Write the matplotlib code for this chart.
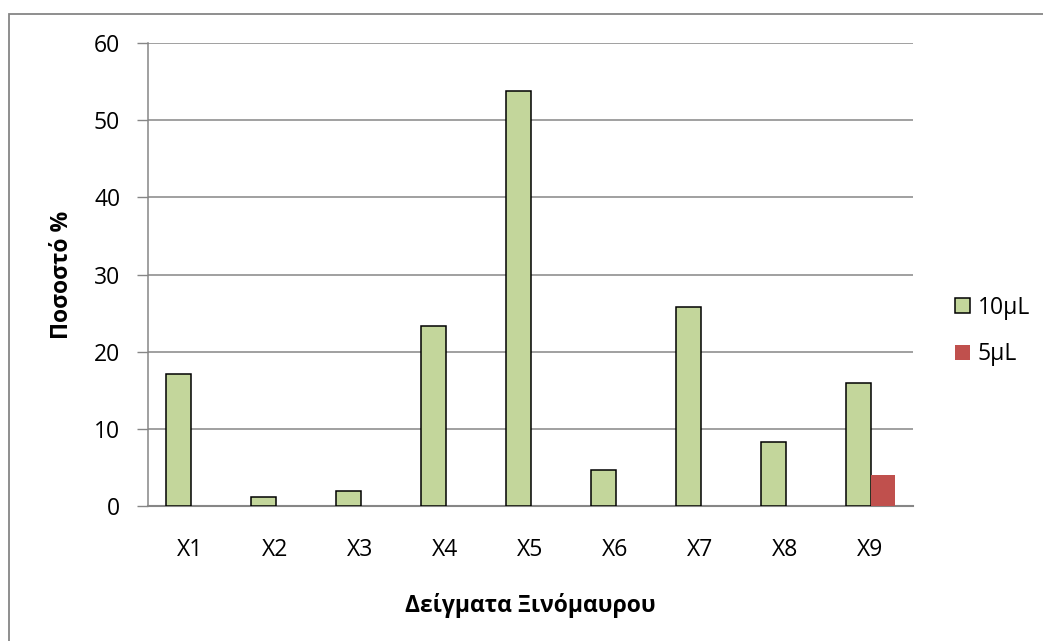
import matplotlib
matplotlib.use("Agg")
import matplotlib.pyplot as plt
import numpy as np
from matplotlib.patches import Rectangle

categories = ["X1", "X2", "X3", "X4", "X5", "X6", "X7", "X8", "X9"]
vals_10 = [17.1, 1.2, 2.0, 23.3, 53.8, 4.7, 25.8, 8.3, 16.0]
vals_5 = [0, 0, 0, 0, 0, 0, 0, 0, 4.0]
series_names = ["10μL", "5μL"]
y_ticks = [0, 10, 20, 30, 40, 50, 60]

plt.rcParams['font.family'] = ['Open Sans', 'DejaVu Sans']
FS = 16.5

W, H = 1043, 641
fig = plt.figure(figsize=(W / 100, H / 100), dpi=100)
ax = fig.add_axes([148 / W, 1 - 506 / H, (913 - 148) / W, (506 - 43) / H])

x = np.arange(len(categories))
bw = 0.294
green = "#C3D69B"
red = "#C0504D"
b1 = ax.bar(x - bw / 2, vals_10, bw, color=green, edgecolor="black", linewidth=1.1, zorder=3)
b2 = ax.bar(x + bw / 2, vals_5, bw, color=red, edgecolor="none", zorder=3)

ax.set_xlim(-0.5, len(categories) - 0.5)
ax.set_ylim(0, 60)
ax.set_yticks(y_ticks)
ax.set_xticks(x)
ax.set_xticklabels(categories, fontsize=FS)
ax.tick_params(axis='y', labelsize=FS, length=8, width=1, color="#868686", pad=12)
ax.tick_params(axis='x', length=0, pad=23)
ax.yaxis.grid(True, color="#868686", linewidth=1.1)
ax.set_axisbelow(True)
for s in ["top", "right"]:
    ax.spines[s].set_visible(False)
ax.spines["left"].set_color("#868686")
ax.spines["bottom"].set_color("#868686")
ax.spines["left"].set_linewidth(1.1)
ax.spines["bottom"].set_linewidth(1.5)

fig.text(62 / W, 1 - 275 / H, "Ποσοστό %", rotation=90, ha="center", va="center",
         fontsize=FS, fontweight="bold")
fig.text(530 / W, 1 - 605 / H, "Δείγματα Ξινόμαυρου", ha="center", va="center",
         fontsize=FS, fontweight="bold")

leg = fig.legend([b1, b2], series_names, loc="center left",
                 bbox_to_anchor=(934 / W, 1 - 331 / H), frameon=False, fontsize=FS,
                 handlelength=0.65, handleheight=0.65, handletextpad=0.35, labelspacing=1.0)

fig.patches.append(Rectangle((9 / W, -0.1), 1.2, 1 - 14 / H + 0.1, transform=fig.transFigure,
                             fill=False, edgecolor="#868686", linewidth=1.3))

fig.savefig("out.png", dpi=100)
